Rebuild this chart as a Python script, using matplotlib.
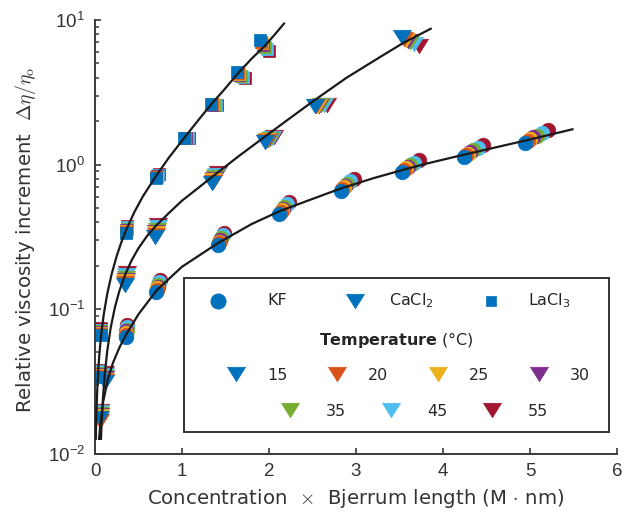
import numpy as np
import matplotlib
matplotlib.use("Agg")
import matplotlib.pyplot as plt
from matplotlib.lines import Line2D
from matplotlib.patches import Rectangle
from matplotlib.path import Path

plt.rcParams['font.family'] = ['Liberation Sans', 'DejaVu Sans']
plt.rcParams['mathtext.fontset'] = 'custom'
plt.rcParams['mathtext.rm'] = 'Liberation Sans'
plt.rcParams['mathtext.it'] = 'Liberation Sans:italic'
plt.rcParams['mathtext.bf'] = 'Liberation Sans:bold'

# ---------------- data ----------------
temperatures = [15, 20, 25, 30, 35, 45, 55]
temp_colors = ['#0072BD', '#D95319', '#EDB120', '#7E2F8E', '#77AC30', '#4DBEEE', '#A2142F']
bjerrum_nm = [0.706, 0.711, 0.715, 0.719, 0.725, 0.734, 0.744]

kf_conc = [0.5, 1.0, 2.0, 3.0, 4.0, 5.0, 6.0, 7.0]
kf_visc = [
    [0.064, 0.131, 0.277, 0.454, 0.656, 0.887, 1.127, 1.41],
    [0.066, 0.135, 0.285, 0.467, 0.675, 0.913, 1.16, 1.45],
    [0.068, 0.139, 0.293, 0.481, 0.695, 0.939, 1.19, 1.49],
    [0.070, 0.143, 0.302, 0.495, 0.715, 0.967, 1.23, 1.54],
    [0.072, 0.147, 0.311, 0.509, 0.735, 0.994, 1.26, 1.58],
    [0.075, 0.153, 0.323, 0.529, 0.764, 1.03, 1.31, 1.64],
    [0.078, 0.159, 0.335, 0.549, 0.794, 1.07, 1.36, 1.73],
]

cacl2_conc = [0.075, 0.155, 0.49, 0.98, 1.9, 2.77, 3.58, 5.0]
cacl2_visc = [
    [0.0176, 0.031, 0.147, 0.315, 0.744, 1.43, 2.54, 7.6],
    [0.0168, 0.0317, 0.151, 0.324, 0.762, 1.45, 2.55, 7.44],
    [0.0182, 0.0324, 0.155, 0.334, 0.780, 1.47, 2.55, 7.29],
    [0.0185, 0.0332, 0.160, 0.343, 0.799, 1.48, 2.56, 7.14],
    [0.0188, 0.0339, 0.164, 0.353, 0.818, 1.50, 2.57, 6.99],
    [0.0193, 0.0349, 0.171, 0.368, 0.845, 1.52, 2.59, 6.79],
    [0.0197, 0.036, 0.177, 0.381, 0.873, 1.55, 2.60, 6.6],
]

lacl3_conc = [0.075, 0.1, 0.5, 0.99, 1.45, 1.89, 2.31, 2.69]
lacl3_visc = [
    [0.034, 0.066, 0.336, 0.81, 1.52, 2.63, 4.36, 7.28],
    [0.0346, 0.0671, 0.342, 0.816, 1.52, 2.62, 4.30, 7.08],
    [0.0352, 0.0682, 0.347, 0.824, 1.52, 2.61, 4.24, 6.89],
    [0.0357, 0.0694, 0.353, 0.830, 1.52, 2.60, 4.19, 6.70],
    [0.0363, 0.0705, 0.359, 0.838, 1.52, 2.59, 4.12, 6.52],
    [0.0371, 0.0721, 0.367, 0.846, 1.52, 2.58, 4.05, 6.28],
    [0.038, 0.0737, 0.375, 0.856, 1.52, 2.57, 3.98, 6.06],
]

# fitted curves
kf_fit_x = [0.045, 0.06, 0.092, 0.15, 0.207, 0.28, 0.36, 0.5, 0.71, 1.0, 1.41, 1.8, 2.12,
            2.5, 2.83, 3.2, 3.54, 3.81, 4.15, 4.5, 5.0, 5.5]
kf_fit_y = [0.0124, 0.0155, 0.0225, 0.033, 0.0425, 0.054, 0.067, 0.092, 0.135, 0.196, 0.285,
            0.387, 0.475, 0.578, 0.684, 0.804, 0.918, 1.014, 1.135, 1.27, 1.49, 1.76]
cacl2_fit_x = [0.068, 0.075, 0.09, 0.11, 0.14, 0.18, 0.23, 0.28, 0.345, 0.42, 0.5, 0.6, 0.69,
               0.85, 1.0, 1.17, 1.345, 1.65, 1.954, 2.23, 2.51, 2.89, 3.28, 3.54, 3.87]
cacl2_fit_y = [0.0124, 0.0157, 0.0234, 0.034, 0.0509, 0.074, 0.1034, 0.1333, 0.172, 0.2168,
               0.2637, 0.321, 0.371, 0.462, 0.562, 0.676, 0.82, 1.14, 1.56, 2.07, 2.75, 3.98,
               5.56, 6.92, 8.77]
lacl3_fit_x = [0.009, 0.015, 0.025, 0.04, 0.055, 0.073, 0.1, 0.14, 0.19, 0.25, 0.3, 0.356,
               0.45, 0.55, 0.7, 0.85, 1.023, 1.18, 1.333, 1.48, 1.632, 1.8, 1.95, 2.07, 2.18]
lacl3_fit_y = [0.0124, 0.0181, 0.0271, 0.04, 0.0527, 0.068, 0.0912, 0.1267, 0.1734, 0.2332,
               0.2866, 0.35, 0.4655, 0.6013, 0.83, 1.117, 1.52, 2.0, 2.6, 3.27, 4.2, 5.4, 6.6,
               7.98, 9.57]

x_ticks = [0, 1, 2, 3, 4, 5, 6]
y_ticks = [1e-2, 1e-1, 1e0, 1e1]

# flattened downward triangle marker (wider than tall, like the original)
tri_down = Path([(-1.0, 0.8), (1.0, 0.8), (0.0, -0.8), (-1.0, 0.8)],
                [Path.MOVETO, Path.LINETO, Path.LINETO, Path.CLOSEPOLY])

# ---------------- figure ----------------
W, H = 633, 517
fig = plt.figure(figsize=(W / 100, H / 100), dpi=100)
ax = fig.add_axes([95 / W, (H - 453.5) / H, (617 - 95) / W, (453.5 - 20) / H])

axis_col = '#3a3a3a'
text_col = '#333333'
label_font = ['DejaVu Sans']

salts = [
    (kf_conc, kf_visc, 'o', 10.5),
    (cacl2_conc, cacl2_visc, tri_down, 13.0),
    (lacl3_conc, lacl3_visc, 's', 8.8),
]
for conc, visc, mk, ms in salts:
    for ti in reversed(range(len(temperatures))):
        xs = np.array(conc) * bjerrum_nm[ti]
        ax.plot(xs, visc[ti], linestyle='none', marker=mk, markersize=ms,
                color=temp_colors[ti], markeredgecolor=temp_colors[ti],
                markeredgewidth=0.5, zorder=2)

for fx, fy in [(kf_fit_x, kf_fit_y), (cacl2_fit_x, cacl2_fit_y), (lacl3_fit_x, lacl3_fit_y)]:
    ax.plot(fx, fy, color='#1a1a1a', linewidth=1.6, zorder=3, solid_capstyle='butt')

ax.set_yscale('log')
ax.set_xlim(0, 6)
ax.set_ylim(1e-2, 1e1)
ax.set_xticks(x_ticks)
ax.set_yticks(y_ticks)

for s in ['top', 'right']:
    ax.spines[s].set_visible(False)
for s in ['left', 'bottom']:
    ax.spines[s].set_color(axis_col)
    ax.spines[s].set_linewidth(1.4)

ax.tick_params(axis='both', which='major', direction='in', length=4.5, width=1.2,
               color=axis_col, labelsize=13.5, labelcolor=text_col)
ax.tick_params(axis='x', pad=7)
ax.tick_params(axis='y', pad=7)
ax.tick_params(axis='y', which='minor', direction='in', length=2.8, width=1.1, color=axis_col)
ax.tick_params(axis='x', which='minor', bottom=False)

ax.set_xlabel(r'Concentration  $\times$  Bjerrum length (M $\cdot$ nm)', fontsize=14.2,
              color=text_col, math_fontfamily='cm', family=label_font)
ax.xaxis.label.set_va('center')
ax.xaxis.set_label_coords(0.5, (453.5 - 498) / 433.5)

# y label placed explicitly (figure pixels)
fig.text(26 / W, 1 - 240 / H, r'Relative viscosity increment  $\Delta\eta/\eta_\mathrm{o}$',
         fontsize=14.2, color=text_col, math_fontfamily='cm', family=label_font,
         rotation=90, rotation_mode='anchor', ha='center', va='center')

# ---------------- legend (drawn by hand) ----------------
def fxp(px):
    return px / W

def fyp(py):
    return 1 - py / H

box = Rectangle((fxp(184), fyp(432)), (609 - 184) / W, (432 - 278) / H,
                transform=fig.transFigure, facecolor='white', edgecolor='#333333',
                linewidth=1.4, zorder=5)
fig.add_artist(box)

leg_fs = 11.5
leg_col = '#262626'
salt_entries = [('o', 218, 'KF', 267, 11.0), (tri_down, 355, 'CaCl$_2$', 389, 13.0),
                ('s', 491, 'LaCl$_3$', 528, 7.5)]
for mk, mx, lab, tx, ms in salt_entries:
    fig.add_artist(Line2D([fxp(mx)], [fyp(300.7)], marker=mk, markersize=ms,
                          color=temp_colors[0], markeredgewidth=0.5, linestyle='none',
                          transform=fig.transFigure, zorder=6))
    fig.text(fxp(tx), fyp(305), lab, fontsize=leg_fs, color=leg_col, ha='left',
             va='baseline', zorder=6, family=label_font, math_fontfamily='dejavusans')

fig.text(fxp(396), fyp(345), r'$\mathbf{Temperature}$ (°C)', fontsize=leg_fs,
         color=leg_col, ha='center', va='baseline', zorder=6, family=label_font,
         math_fontfamily='dejavusans')

legend_slots = [
    (236, 374, 267, 380), (337, 374, 368, 380), (438, 374, 469, 380), (539, 374, 570, 380),
    (290, 410, 326, 416), (391, 410, 427, 416), (492, 410, 528, 416),
]
for ti, (mx, my, tx, ty) in enumerate(legend_slots):
    fig.add_artist(Line2D([fxp(mx)], [fyp(my)], marker=tri_down, markersize=13,
                          color=temp_colors[ti], markeredgewidth=0.5, linestyle='none',
                          transform=fig.transFigure, zorder=6))
    fig.text(fxp(tx), fyp(ty), str(temperatures[ti]), fontsize=leg_fs, color=leg_col,
             ha='left', va='baseline', zorder=6, family=label_font)

fig.savefig('out.png', dpi=100)
